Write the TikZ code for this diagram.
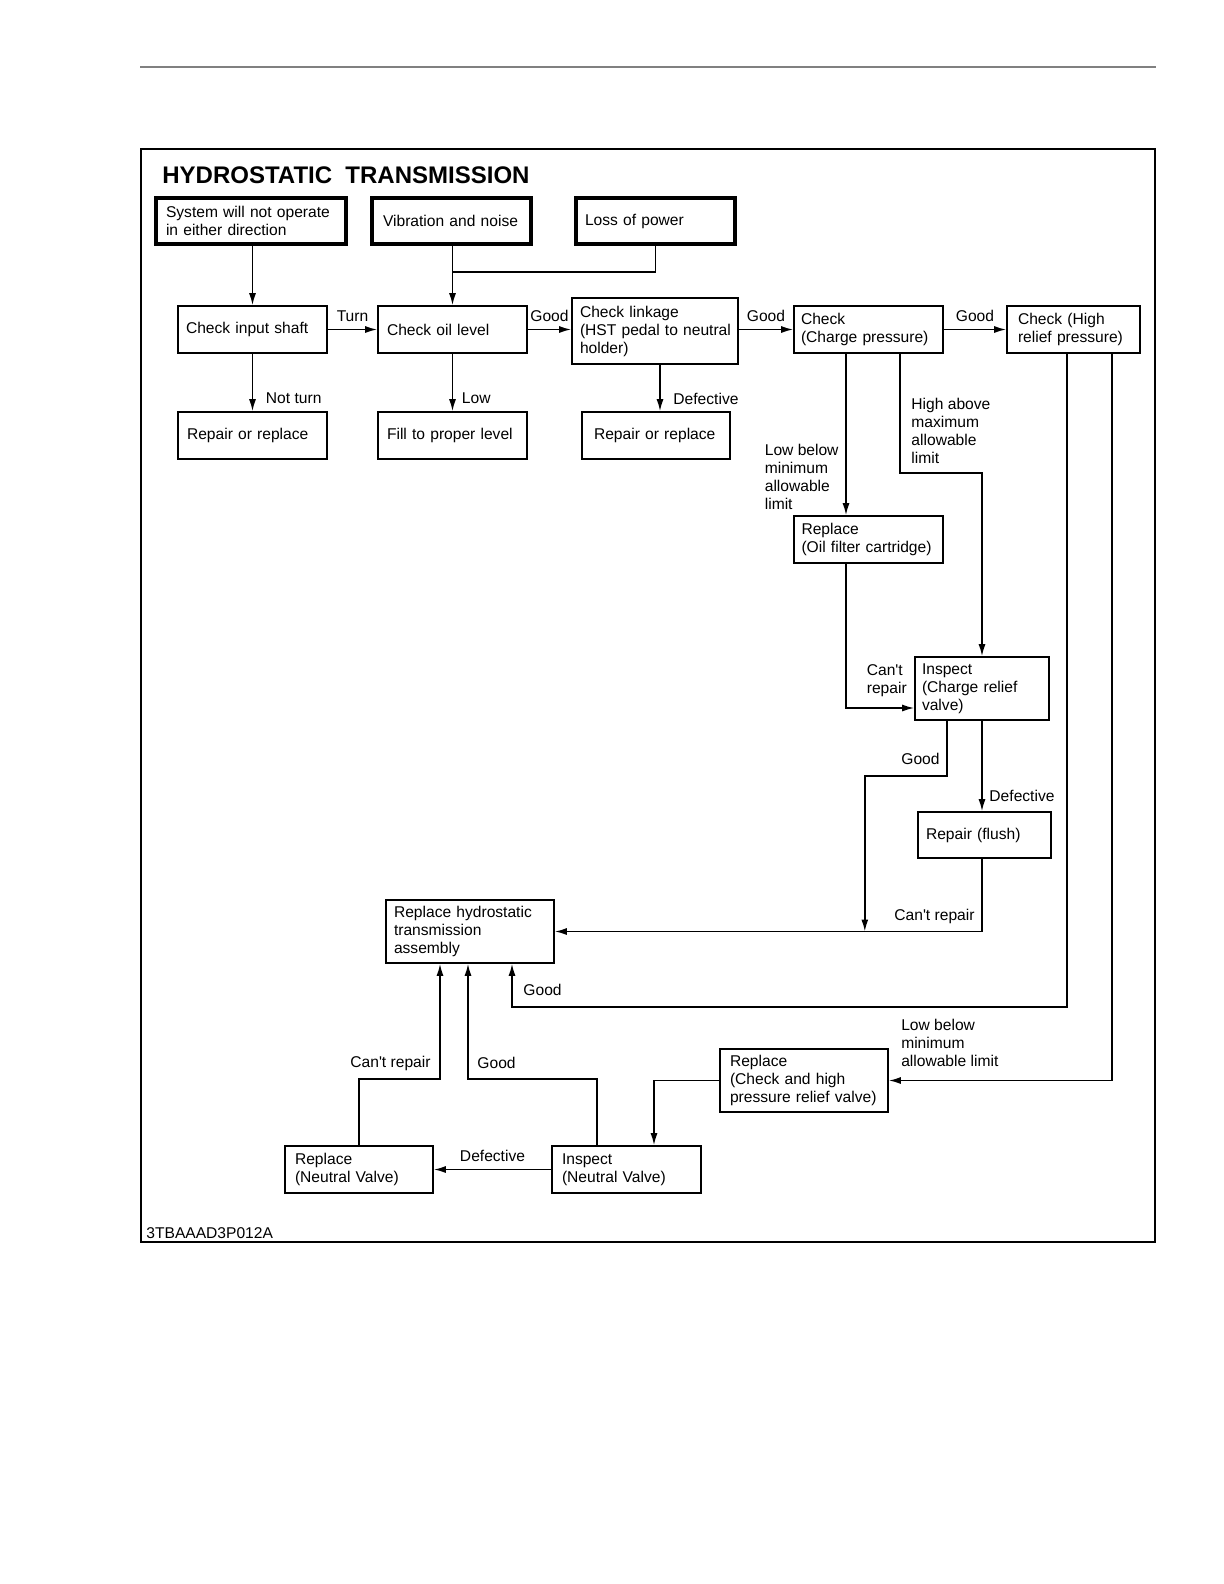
\documentclass[tikz,border=0pt]{standalone}
\usepackage{fontspec}
\setmainfont{Liberation Sans}
\usetikzlibrary{arrows.meta}

\begin{document}
\begin{tikzpicture}[x=0.5pt, y=0.5pt, >={Latex[length=6pt,width=3.5pt]},
	box/.style={draw, line width=0.8pt, align=left, inner ysep=0pt, font=\fontsize{7.8}{9}\selectfont,
		execute at begin node={\rightskip=0pt plus 1fil minus 20pt}},
	topbox/.style={box, line width=1.6pt},
	lbl/.style={font=\fontsize{7.8}{9}\selectfont, align=left},
	link/.style={->, line width=0.8pt}]
	
	% page and frame
	\useasboundingbox (0,0) rectangle (1224,-1584);
	\draw [gray, line width=0.6pt] (140,-67) -- (1156,-67);
	\draw [line width=0.6pt] (141,-149) rectangle (1155,-1242);
	\node [font=\bfseries\fontsize{12}{14}\selectfont, anchor=base west, inner sep=0pt] (title) at (162,-184) {HYDROSTATIC\ \ TRANSMISSION};
	\node [lbl, anchor=base west, inner sep=0pt] (code) at (146,-1238) {3TBAAAD3P012A};
	
	% symptoms
	\node [topbox, text width=85pt, inner xsep=5pt, minimum height=23pt] (sysnot) at (251,-221) {System will not operate\\in either direction};
	\node [topbox, text width=68.5pt, inner xsep=5.5pt, minimum height=23pt] (vibration) at (451.5,-221) {Vibration and noise};
	\node [topbox, text width=70.5pt, inner xsep=4.5pt, minimum height=23pt] (losspower) at (655.5,-221) {Loss of power};
	
	% first checks
	\node [box, text width=66.5pt, inner xsep=4pt, minimum height=23.5pt] (shaft) at (252.5,-329.5) {Check input shaft};
	\node [box, text width=65.5pt, inner xsep=4.5pt, minimum height=23.5pt] (oil) at (452.5,-329.5) {Check oil level};
	\node [box, text width=75pt, inner xsep=4pt, minimum height=33pt] (linkage) at (655,-331) {Check linkage\\(HST pedal to neutral\\holder)};
	\node [box, text width=67.5pt, inner xsep=3.5pt, minimum height=23.5pt] (charge) at (868.5,-329.5) {Check\\(Charge pressure)};
	\node [box, text width=55.5pt, inner xsep=5.5pt, minimum height=23.5pt] (highrelief) at (1073.5,-329.5) {Check (High\\relief pressure)};
	
	% remedies
	\node [box, text width=65.5pt, inner xsep=4.5pt, minimum height=23.5pt] (repair1) at (252.5,-435.5) {Repair or replace};
	\node [box, text width=65.5pt, inner xsep=4.5pt, minimum height=23.5pt] (fill) at (452.5,-435.5) {Fill to proper level};
	\node [box, text width=62pt, inner xsep=6pt, minimum height=23.5pt] (repair2) at (656,-435.5) {Repair or replace};
	\node [box, text width=67pt, inner xsep=3.75pt, minimum height=23.5pt] (oilfilter) at (868.5,-539.5) {Replace\\(Oil filter cartridge)};
	\node [box, text width=60pt, inner xsep=3.5pt, minimum height=31.5pt] (chargerelief) at (982,-688.5) {Inspect\\(Charge relief\\valve)};
	\node [box, text width=58.5pt, inner xsep=4pt, minimum height=23pt] (flush) at (984.5,-835) {Repair (flush)};
	\node [box, text width=76pt, inner xsep=4pt, minimum height=31.5pt] (hstassy) at (470,-931.5) {Replace hydrostatic\\transmission\\assembly};
	\node [box, text width=74pt, inner xsep=5pt, minimum height=31.5pt] (replhigh) at (804,-1080.5) {Replace\\(Check and high\\pressure relief valve)};
	\node [box, text width=64pt, inner xsep=5pt, minimum height=23.5pt] (replneutral) at (359,-1169.5) {Replace\\(Neutral Valve)};
	\node [box, text width=64.5pt, inner xsep=5pt, minimum height=23.5pt] (inspneutral) at (626.5,-1169.5) {Inspect\\(Neutral Valve)};
	
	% symptoms to checks
	\coordinate (lossjoin) at ([yshift=16.5pt]oil.north);
	\coordinate (goodjoin) at ([xshift=155pt]hstassy.east);
	\draw [link] (sysnot.south -| shaft.north) -- (shaft.north);
	\draw [link] (vibration.south -| oil.north) -- (oil.north);
	\draw [line width=0.8pt] (losspower.south) |- (lossjoin);
	
	% main line
	\draw [link] (shaft) -- node [lbl, above] {Turn} (oil);
	\draw [link] (oil.east) -- node [lbl, above] {Good} (oil.east -| linkage.west);
	\draw [link] (charge.west -| linkage.east) -- node [lbl, above] {Good} (charge.west);
	\draw [link] (charge) -- node [lbl, above] {Good} (highrelief);
	
	% down to remedies
	\draw [link] (shaft) -- node [lbl, pos=0.78, right=3pt] {Not turn} (repair1);
	\draw [link] (oil) -- node [lbl, pos=0.78, right=1pt] {Low} (fill);
	\draw [link] ([xshift=2.5pt]linkage.south) -- node [lbl, pos=0.73, right=3pt] {Defective} ([xshift=2.5pt]linkage.south |- repair2.north);
	
	% charge pressure
	\draw [link] ([xshift=-11.25pt]charge.south) -- node [lbl, pos=0.76, left] {Low below\\minimum\\allowable\\limit} ([xshift=-11.25pt]oilfilter.north);
	\draw [link] ([xshift=15.75pt]charge.south) -- node [lbl, pos=0.65, right=2pt] {High above\\maximum\\allowable\\limit} ++(0,-119) -| (chargerelief.north);
	\draw [link] ([xshift=-11.25pt]oilfilter.south) |- node [lbl, pos=1, above left, yshift=2pt] {Can\textquotesingle t\\repair} ([yshift=-9.75pt]chargerelief.west);
	
	% charge relief valve
	\draw [link] ([xshift=-17.5pt]chargerelief.south) -- node [lbl, pos=1, above left, yshift=2pt] {Good} ++(0,-55) -| (goodjoin);
	\draw [link] (chargerelief.south) -- node [lbl, pos=0.83, right=0pt] {Defective} (chargerelief.south |- flush.north);
	\draw [link] (flush.south -| chargerelief.south) |- node [lbl, pos=0.5, above left] {Can\textquotesingle t repair} (hstassy.east);
	
	% high relief pressure
	\draw [link] ([xshift=-3.25pt]highrelief.south) -- ++(0,-653) -| node [lbl, pos=0.7, right=2pt] {Good} ([xshift=21pt]hstassy.south);
	\draw [link] ([xshift=19.25pt]highrelief.south) |- node [lbl, pos=1, above right, xshift=2.5pt, yshift=3pt] {Low below\\minimum\\allowable limit} (replhigh.east);
	\draw [link] (replhigh.west) -| ([xshift=13.75pt]inspneutral.north);
	
	% neutral valve
	\draw [link] (inspneutral) -- node [lbl, above] {Defective} (replneutral);
	\draw [link] ([xshift=-14.75pt]inspneutral.north) -- ++(0,66) -| node [lbl, pos=0.57, right=1pt] {Good} ([xshift=-1pt]hstassy.south);
	\draw [link] (replneutral.north) -- ++(0,66) -| node [lbl, pos=0.57, left=1pt] {Can\textquotesingle t repair} ([xshift=-15pt]hstassy.south);
	
\end{tikzpicture}
\end{document}
